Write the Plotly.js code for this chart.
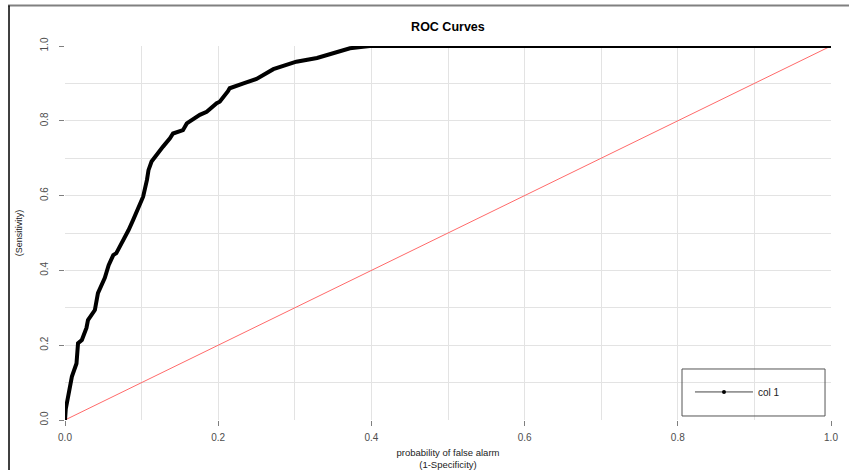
<!DOCTYPE html>
<html>
<head>
<meta charset="utf-8">
<script src="https://cdn.plot.ly/plotly-3.0.1.min.js"></script>
<style>html,body{margin:0;padding:0;background:#fff;}#chart{width:849px;height:470px;}</style>
</head>
<body>
<div id="chart"></div>
<script>
// ROC curve
const fpr = [0, 0.001, 0.004, 0.009, 0.015, 0.017, 0.022, 0.028, 0.030, 0.039, 0.043, 0.052, 0.057, 0.063, 0.067, 0.074, 0.083, 0.089, 0.098, 0.102, 0.107, 0.109, 0.113, 0.122, 0.128, 0.137, 0.141, 0.154, 0.159, 0.176, 0.185, 0.198, 0.202, 0.213, 0.215, 0.233, 0.250, 0.272, 0.289, 0.298, 0.302, 0.329, 0.350, 0.372, 0.389, 0.398, 1.0];
const tpr = [0, 0.030, 0.062, 0.116, 0.151, 0.205, 0.214, 0.246, 0.267, 0.294, 0.339, 0.380, 0.414, 0.441, 0.446, 0.472, 0.508, 0.535, 0.579, 0.597, 0.642, 0.668, 0.691, 0.717, 0.731, 0.753, 0.766, 0.775, 0.793, 0.816, 0.824, 0.847, 0.851, 0.880, 0.887, 0.900, 0.912, 0.938, 0.950, 0.954, 0.958, 0.968, 0.981, 0.994, 0.998, 1.0, 1.0];
// chance diagonal
const diagX = [0, 1];
const diagY = [0, 1];
const seriesName = 'col 1';
const tickVals = [0, 0.2, 0.4, 0.6, 0.8, 1.0];
const tickText = ['0.0', '0.2', '0.4', '0.6', '0.8', '1.0'];

const FONT = 'Liberation Sans, Arial, sans-serif';

const traces = [
  {x: diagX, y: diagY, mode: 'lines', line: {color: '#ff6a6a', width: 1}, showlegend: false, hoverinfo: 'skip'},
  {x: fpr, y: tpr, mode: 'lines', line: {color: '#000000', width: 4}, showlegend: false, name: seriesName},
  {x: [null], y: [null], mode: 'lines+markers', name: seriesName,
   line: {color: '#444444', width: 1}, marker: {color: '#000000', size: 4}, showlegend: true}
];

const axisCommon = {
  range: [0, 1], tickmode: 'array', tickvals: tickVals, ticktext: tickText,
  showgrid: true, gridcolor: '#e3e3e3', gridwidth: 1,
  minor: {dtick: 0.1, showgrid: true, gridcolor: '#e3e3e3', gridwidth: 1},
  ticks: 'outside', ticklen: 5, tickcolor: '#7f7f7f', tickwidth: 1,
  showline: false, zeroline: false,
  tickfont: {family: FONT, size: 10, color: '#4d4d4d'}
};

const layout = {
  width: 849, height: 470,
  margin: {l: 65, r: 18, t: 46, b: 50},
  paper_bgcolor: '#ffffff', plot_bgcolor: '#ffffff',
  title: {text: '<b>ROC Curves</b>', font: {family: FONT, size: 12.5, color: '#000'}, x: 0.5276, xanchor: 'center', y: 0.943, yanchor: 'middle'},
  xaxis: Object.assign({}, axisCommon, {
    ticklabelstandoff: 3,
    title: {text: 'probability of false alarm<br>(1-Specificity)', font: {family: FONT, size: 9.5, color: '#222'}, standoff: 12}
  }),
  yaxis: Object.assign({}, axisCommon, {
    tickangle: -90,
    ticklabelstandoff: 7,
    title: {text: '(Sensitivity)', font: {family: FONT, size: 9, color: '#222'}, standoff: 14}
  }),
  showlegend: true,
  legend: {x: 0.8159, xanchor: 'left', y: 0.075, yanchor: 'middle', bgcolor: 'rgba(0,0,0,0)', borderwidth: 0,
           itemwidth: 58,
           font: {family: FONT, size: 10, color: '#222'}},
  shapes: [
    {type: 'rect', xref: 'paper', yref: 'paper', x0: 0.8055, x1: 0.9922, y0: 0.0107, y1: 0.1364,
     line: {color: '#555555', width: 1}, fillcolor: 'rgba(0,0,0,0)', layer: 'above'},
    {type: 'line', xref: 'paper', yref: 'paper', x0: -0.0744, x1: 1.0235, y0: 1.1083, y1: 1.1083,
     line: {color: '#808080', width: 2}},
    {type: 'line', xref: 'paper', yref: 'paper', x0: -0.0731, x1: -0.0731, y0: 1.1083, y1: -0.14,
     line: {color: '#000000', width: 1.5}}
  ]
};

Plotly.newPlot('chart', traces, layout, {displayModeBar: false, staticPlot: true});
</script>
</body>
</html>
